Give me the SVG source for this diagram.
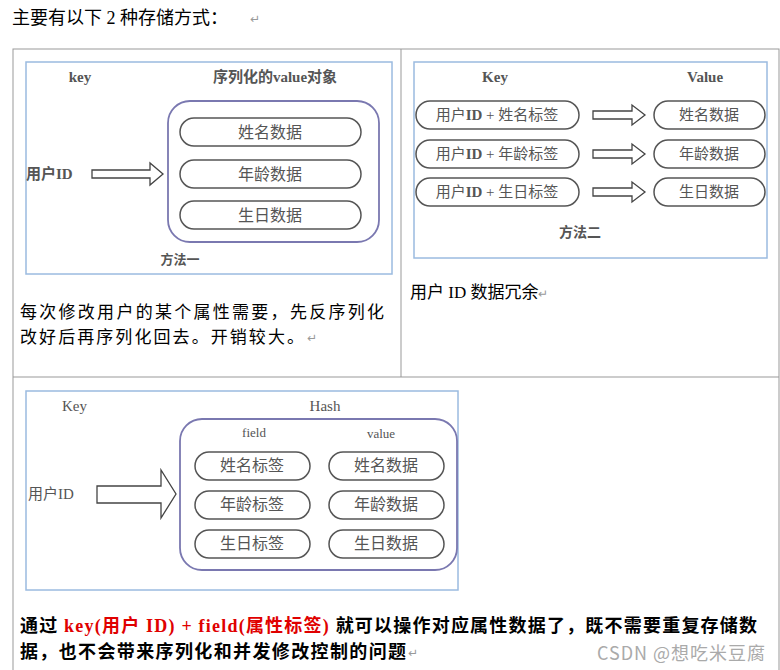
<svg xmlns="http://www.w3.org/2000/svg" width="780" height="670" viewBox="0 0 780 670">
<style>
.t{font-family:"Liberation Serif","Noto Sans CJK SC",serif;fill:#000}
.g{font-family:"Liberation Serif","Noto Sans CJK SC",serif;fill:#555}
.pill{fill:#fff;stroke:#555;stroke-width:1.5}
.frame{fill:#fff;stroke:#9bbbe0;stroke-width:1.5}
.inner{fill:#fff;stroke:#7a78b0;stroke-width:1.8}
.arr{fill:#fff;stroke:#444;stroke-width:1.3}
.cell{fill:none;stroke:#999;stroke-width:1}
</style>
<rect width="780" height="670" fill="#fff"/>
<text class="t" x="12" y="24" font-size="18" font-family="Noto Sans CJK SC, sans-serif">主要有以下 2 种存储方式：</text>
<text x="250" y="23" fill="#999" font-size="12" font-family="DejaVu Sans, sans-serif">↵</text>
<g id="table">
<rect class="cell" x="13" y="49" width="766" height="628"/>
<line class="cell" x1="401" y1="49" x2="401" y2="377"/>
<line class="cell" x1="13" y1="377" x2="779" y2="377"/>
</g>
<g id="method1">
<rect class="frame" x="26" y="62" width="366" height="212"/>
<text class="g" x="80" y="82" font-size="15" font-weight="bold" text-anchor="middle">key</text>
<text class="g" x="275" y="82" font-size="15" font-weight="bold" text-anchor="middle">序列化的value对象</text>
<rect class="inner" x="168" y="101" width="211" height="141" rx="22"/>
<rect class="pill" x="180" y="118" width="181" height="28" rx="14"/>
<rect class="pill" x="180" y="160" width="181" height="28" rx="14"/>
<rect class="pill" x="180" y="201" width="181" height="28" rx="14"/>
<text class="g" x="270" y="138" font-size="16" text-anchor="middle">姓名数据</text>
<text class="g" x="270" y="180" font-size="16" text-anchor="middle">年龄数据</text>
<text class="g" x="270" y="221" font-size="16" text-anchor="middle">生日数据</text>
<text class="g" x="26" y="179" font-size="15" font-weight="bold" fill="#333">用户ID</text>
<path class="arr" d="M92,170 H150 V163 L163,174 L150,185 V178 H92 Z"/>
<text class="g" x="180" y="264" font-size="13" font-weight="bold" text-anchor="middle" fill="#777">方法一</text>
</g>
<text class="t" x="20" y="318" font-size="17" textLength="364" font-family="Noto Sans CJK SC, sans-serif">每次修改用户的某个属性需要，先反序列化</text>
<text class="t" x="20" y="343" font-size="17" textLength="284" font-family="Noto Sans CJK SC, sans-serif">改好后再序列化回去。开销较大。</text>
<text x="307" y="342" fill="#999" font-size="12" font-family="DejaVu Sans, sans-serif">↵</text>
<g id="method2">
<rect class="frame" x="414" y="62" width="353" height="196"/>
<text class="g" x="495" y="82" font-size="15" font-weight="bold" text-anchor="middle">Key</text>
<text class="g" x="705" y="82" font-size="15" font-weight="bold" text-anchor="middle">Value</text>
<rect class="pill" x="416" y="101" width="163" height="28" rx="14"/>
<rect class="pill" x="416" y="140" width="163" height="28" rx="14"/>
<rect class="pill" x="416" y="178" width="163" height="28" rx="14"/>
<rect class="pill" x="654" y="101" width="111" height="28" rx="14"/>
<rect class="pill" x="654" y="140" width="111" height="28" rx="14"/>
<rect class="pill" x="654" y="178" width="111" height="28" rx="14"/>
<text class="g" x="497" y="120" font-size="15" text-anchor="middle">用户<tspan font-weight="bold">ID</tspan> + 姓名标签</text>
<text class="g" x="497" y="159" font-size="15" text-anchor="middle">用户<tspan font-weight="bold">ID</tspan> + 年龄标签</text>
<text class="g" x="497" y="197" font-size="15" text-anchor="middle">用户<tspan font-weight="bold">ID</tspan> + 生日标签</text>
<text class="g" x="709" y="120" font-size="15" text-anchor="middle">姓名数据</text>
<text class="g" x="709" y="159" font-size="15" text-anchor="middle">年龄数据</text>
<text class="g" x="709" y="197" font-size="15" text-anchor="middle">生日数据</text>
<path class="arr" d="M593,111 H632 V105 L645,115 L632,125 V119 H593 Z"/>
<path class="arr" d="M593,150 H632 V144 L645,154 L632,164 V158 H593 Z"/>
<path class="arr" d="M593,188 H632 V182 L645,192 L632,202 V196 H593 Z"/>
<text class="g" x="580" y="237" font-size="14" font-weight="bold" text-anchor="middle" fill="#777">方法二</text>
</g>
<text class="t" x="410" y="298" font-size="17" font-family="Noto Sans CJK SC, sans-serif">用户 <tspan font-family="Liberation Serif">ID</tspan> 数据冗余<tspan fill="#999" font-size="12">↵</tspan></text>
<g id="method3">
<rect class="frame" x="26" y="391" width="432" height="199"/>
<text class="g" x="62" y="411" font-size="15" fill="#333">Key</text>
<text class="g" x="325" y="411" font-size="15" text-anchor="middle" fill="#333">Hash</text>
<rect class="inner" x="180" y="419" width="277" height="151" rx="22"/>
<text class="g" x="254" y="437" font-size="13" text-anchor="middle">field</text>
<text class="g" x="381" y="438" font-size="13" text-anchor="middle">value</text>
<rect class="pill" x="195" y="452" width="115" height="28" rx="14"/>
<rect class="pill" x="195" y="491" width="115" height="28" rx="14"/>
<rect class="pill" x="195" y="530" width="115" height="28" rx="14"/>
<rect class="pill" x="329" y="452" width="115" height="28" rx="14"/>
<rect class="pill" x="329" y="491" width="115" height="28" rx="14"/>
<rect class="pill" x="329" y="530" width="115" height="28" rx="14"/>
<text class="g" x="252" y="471" font-size="16" text-anchor="middle">姓名标签</text>
<text class="g" x="252" y="510" font-size="16" text-anchor="middle">年龄标签</text>
<text class="g" x="252" y="549" font-size="16" text-anchor="middle">生日标签</text>
<text class="g" x="386" y="471" font-size="16" text-anchor="middle">姓名数据</text>
<text class="g" x="386" y="510" font-size="16" text-anchor="middle">年龄数据</text>
<text class="g" x="386" y="549" font-size="16" text-anchor="middle">生日数据</text>
<text class="g" x="28" y="499" font-size="15" fill="#444">用户ID</text>
<path class="arr" d="M97,486 H161 V470 L176,494 L161,518 V503 H97 Z"/>
</g>
<text class="t" x="20" y="632" font-size="18" font-weight="bold" textLength="737">通过 <tspan fill="#e00000">key(用户 ID) + field(属性标签)</tspan> 就可以操作对应属性数据了，既不需要重复存储数</text>
<text class="t" x="20" y="658" font-size="18" font-weight="bold" textLength="386">据，也不会带来序列化和并发修改控制的问题</text>
<text x="408" y="657" fill="#999" font-size="12" font-family="DejaVu Sans, sans-serif">↵</text>
<text x="597" y="660" font-size="18" fill="#aaa" textLength="168" font-family="Noto Sans CJK SC, sans-serif">CSDN @想吃米豆腐</text>
</svg>
